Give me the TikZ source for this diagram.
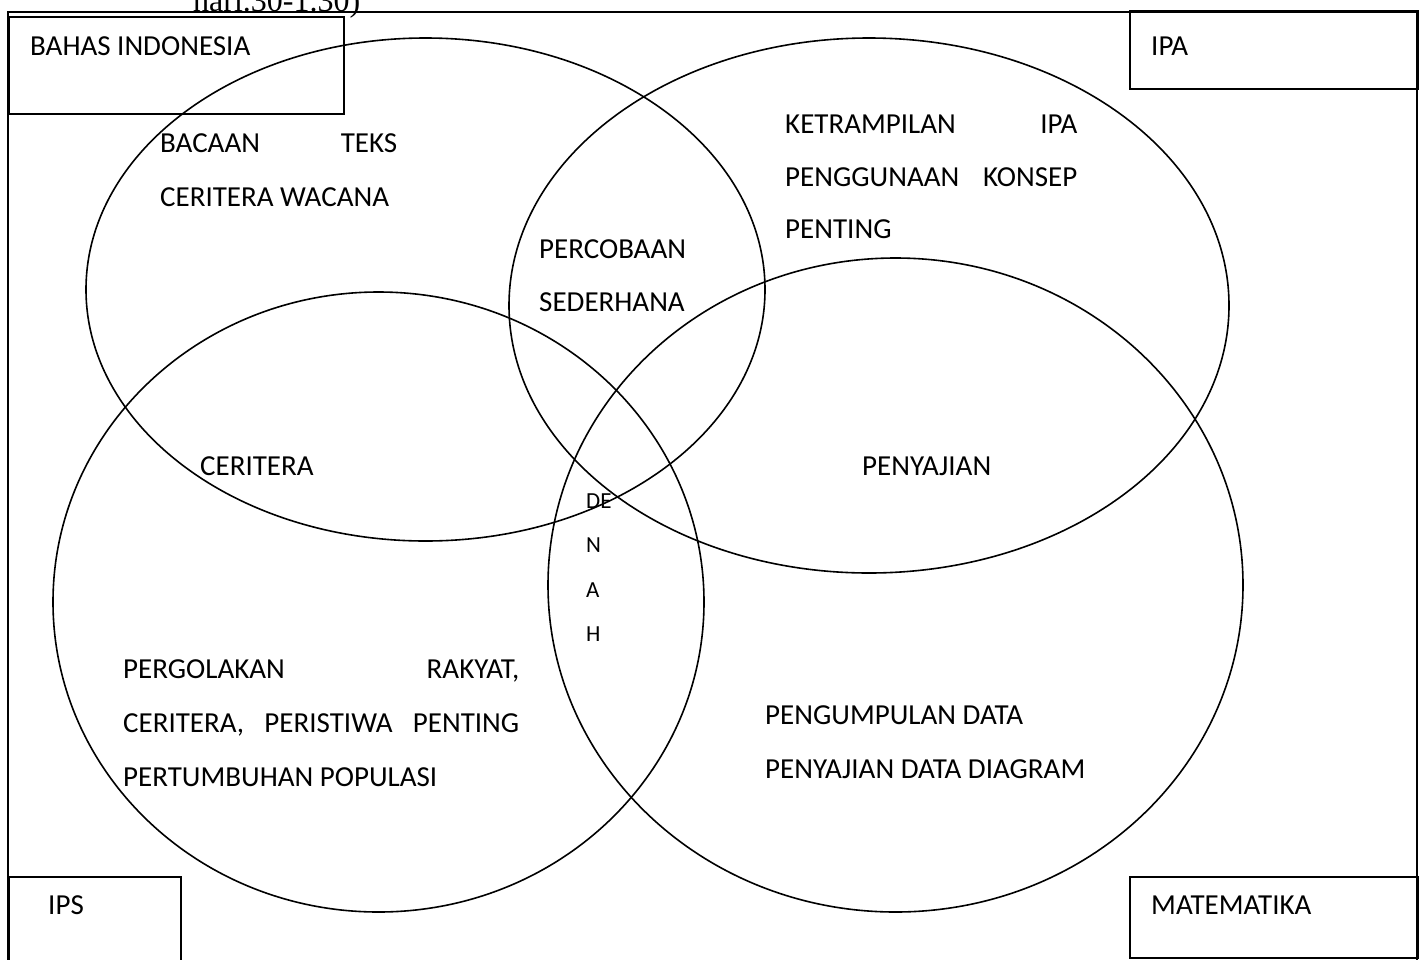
\documentclass[tikz,border=0pt]{standalone}
\usepackage{fontspec}
\setmainfont{Carlito}
\newfontfamily\hdrfont{Liberation Serif}

\begin{document}
\begin{tikzpicture}[x=1pt,y=-1pt,
  frame/.style={line width=2.2pt},
  subject/.style={draw,rectangle,line width=2pt,anchor=north west,inner sep=0pt},
  ring/.style={line width=1.6pt},
  lbl/.style={anchor=base west,inner sep=0pt,font=\fontsize{29}{34}\selectfont},
  small/.style={anchor=base west,inner sep=0pt,font=\fontsize{23}{28}\selectfont}]

\useasboundingbox (0,0) rectangle (1421,959);

% cut-off line of the page above
\node[anchor=base west,inner sep=0pt,font=\hdrfont\fontsize{32}{36}\selectfont] (hdr) at (193,11) {hari.30-1.30)};

% frame and subject boxes
\draw[frame] (8,12) rectangle (1417,990);
\node[subject,minimum width=335pt,minimum height=97pt] (bindo) at (8,16) {};
\node[subject,minimum width=288pt,minimum height=78pt] (ipa) at (1129,10) {};
\node[subject,minimum width=172pt,minimum height=120pt] (ips) at (8,876) {};
\node[subject,minimum width=288pt,minimum height=81pt] (mtk) at (1129,876) {};

\node[lbl] (bindoT) at (30,55) {BAHAS INDONESIA};
\node[lbl] (ipaT) at (1151,55) {IPA};
\node[lbl] (ipsT) at (48,914) {IPS};
\node[lbl] (mtkT) at (1151,914) {MATEMATIKA};

% the four circles
\coordinate (cBindo) at (425.5,289.5);
\coordinate (cIpa) at (869,305.5);
\coordinate (cIps) at (378.5,602);
\coordinate (cMtk) at (895.5,585);
\draw[ring] (cBindo) ellipse [x radius=339.5pt, y radius=251.5pt];
\draw[ring] (cIpa) ellipse [x radius=360pt, y radius=267.5pt];
\draw[ring] (cIps) ellipse [x radius=325.5pt, y radius=310pt];
\draw[ring] (cMtk) ellipse [x radius=347.5pt, y radius=327pt];

% bahasa indonesia
\node[lbl] (bi1) at (160,152) {\makebox[237pt][s]{BACAAN TEKS}};
\node[lbl] (bi2) at (160,206) {CERITERA WACANA};

% ipa
\node[lbl] (ipa1) at (785,133) {\makebox[292pt][s]{KETRAMPILAN IPA}};
\node[lbl] (ipa2) at (785,186) {\makebox[292pt][s]{PENGGUNAAN KONSEP}};
\node[lbl] (ipa3) at (785,238) {PENTING};

% bahasa + ipa
\node[lbl] (bp1) at (539,258) {PERCOBAAN};
\node[lbl] (bp2) at (539,311) {SEDERHANA};

% bahasa + ips, ipa + matematika
\node[lbl] (bs) at (200,475) {CERITERA};
\node[lbl] (pm) at (862,475) {PENYAJIAN};

% all four
\node[small] (d1) at (586,508) {DE};
\node[small] (d2) at (586,552) {N};
\node[small] (d3) at (586,597) {A};
\node[small] (d4) at (586,641) {H};

% ips
\node[lbl] (ips1) at (123,678) {\makebox[396pt][s]{PERGOLAKAN RAKYAT,}};
\node[lbl] (ips2) at (123,732) {\makebox[396pt][s]{CERITERA, PERISTIWA PENTING}};
\node[lbl] (ips3) at (123,786) {PERTUMBUHAN POPULASI};

% matematika
\node[lbl] (mtk1) at (765,724) {PENGUMPULAN DATA};
\node[lbl] (mtk2) at (765,778) {PENYAJIAN DATA DIAGRAM};

\end{tikzpicture}
\end{document}
